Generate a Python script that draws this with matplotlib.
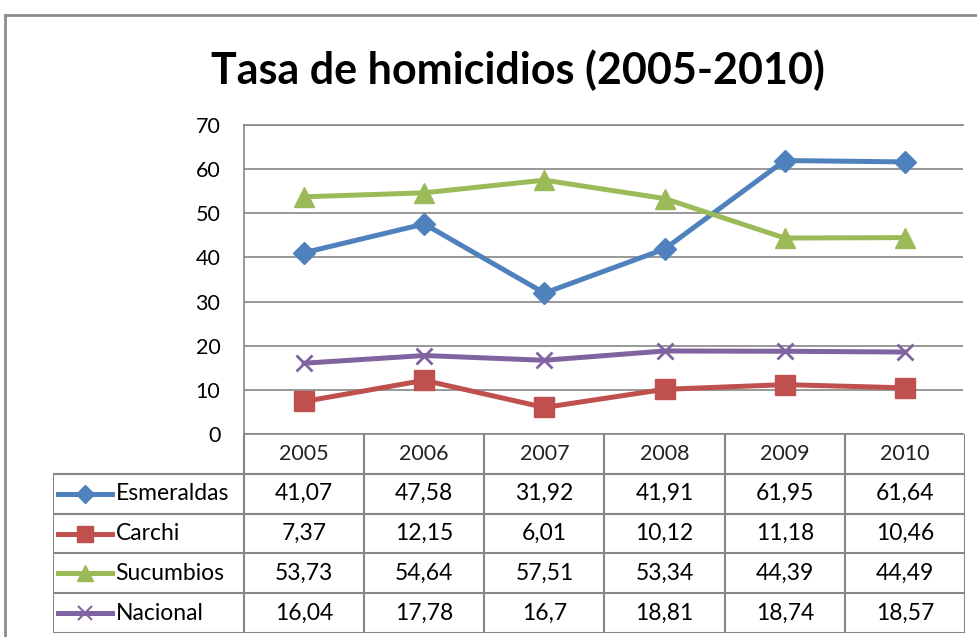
import matplotlib.pyplot as plt
from matplotlib.lines import Line2D

years = ['2005', '2006', '2007', '2008', '2009', '2010']
esmeraldas = [41.07, 47.58, 31.92, 41.91, 61.95, 61.64]
carchi = [7.37, 12.15, 6.01, 10.12, 11.18, 10.46]
sucumbios = [53.73, 54.64, 57.51, 53.34, 44.39, 44.49]
nacional = [16.04, 17.78, 16.7, 18.81, 18.74, 18.57]

series = [
    ('Esmeraldas', esmeraldas, '#4F81BD', 'D', 11),
    ('Carchi', carchi, '#C0504D', 's', 14),
    ('Sucumbios', sucumbios, '#9BBB59', '^', 15),
    ('Nacional', nacional, '#8064A2', 'x', 12),
]

plt.rcParams['font.family'] = ['Lato', 'DejaVu Sans']
grid_col = '#868686'

W, H = 978, 637
fig = plt.figure(figsize=(W / 100, H / 100), dpi=100)

def rect(x0, y0, x1, y1):
    return [x0 / W, 1 - y1 / H, (x1 - x0) / W, (y1 - y0) / H]

# outer frame of the chart object
frame = fig.add_axes([0, 0, 1, 1])
frame.set_xlim(0, W)
frame.set_ylim(H, 0)
frame.axis('off')
frame.plot([5, W], [15, 15], color='#8c8c8c', lw=2)
frame.plot([5, 5], [15, H], color='#8c8c8c', lw=2)

fig.text(518 / W, 1 - 70 / H, 'Tasa de homicidios (2005-2010)',
         ha='center', va='center', fontsize=31, fontweight='bold')

# plot area
ax = fig.add_axes(rect(244, 125, 963, 434))
x = [i + 0.5 for i in range(len(years))]
for name, vals, col, mk, ms in series:
    ax.plot(x, vals, color=col, lw=3.6, marker=mk, markersize=ms,
            markeredgewidth=2 if mk == 'x' else 1, markeredgecolor=col)
ax.set_xlim(0, 6 * 719 / 721)
ax.set_ylim(0, 70)
ax.set_yticks(range(0, 71, 10))
ax.yaxis.grid(True, color=grid_col, lw=1.2)
ax.set_axisbelow(True)
ax.set_xticks([])
ax.tick_params(axis='y', length=0, pad=17, labelsize=15.5)
ax.spines['right'].set_visible(False)
for s in ax.spines.values():
    s.set_color(grid_col)
    s.set_linewidth(1.2)

# data table
left = (53 - 244) / 120.17
tb = fig.add_axes(rect(53, 434, 965, 633))
tb.set_xlim(left, 6)
tb.set_ylim(5, 0)
tb.axis('off')
for r in range(1, 6):
    tb.plot([left, 6], [r, r], color=grid_col, lw=1.5)
for c in range(0, 7):
    tb.plot([c, c], [0, 5], color=grid_col, lw=1.5)
tb.plot([left, left], [1, 5], color=grid_col, lw=1.5)

for i, yr in enumerate(years):
    tb.text(i + 0.5, 0.5, yr, ha='center', va='center', fontsize=15.5, color='#222222')

for r, (name, vals, col, mk, ms) in enumerate(series):
    yrow = r + 1.5
    tb.add_line(Line2D([-1.548, -1.098], [yrow, yrow], color=col, lw=3.6))
    tb.plot([-1.323], [yrow], marker=mk, color=col, markersize=ms * 0.8,
            markeredgecolor=col, markeredgewidth=1.5 if mk == 'x' else 1)
    tb.text(-1.07, yrow, name, ha='left', va='center', fontsize=16.5)
    for i, v in enumerate(vals):
        tb.text(i + 0.5, yrow, f'{v:g}'.replace('.', ','), ha='center',
                va='center', fontsize=16.5)

fig.savefig('out.png', dpi=100)
